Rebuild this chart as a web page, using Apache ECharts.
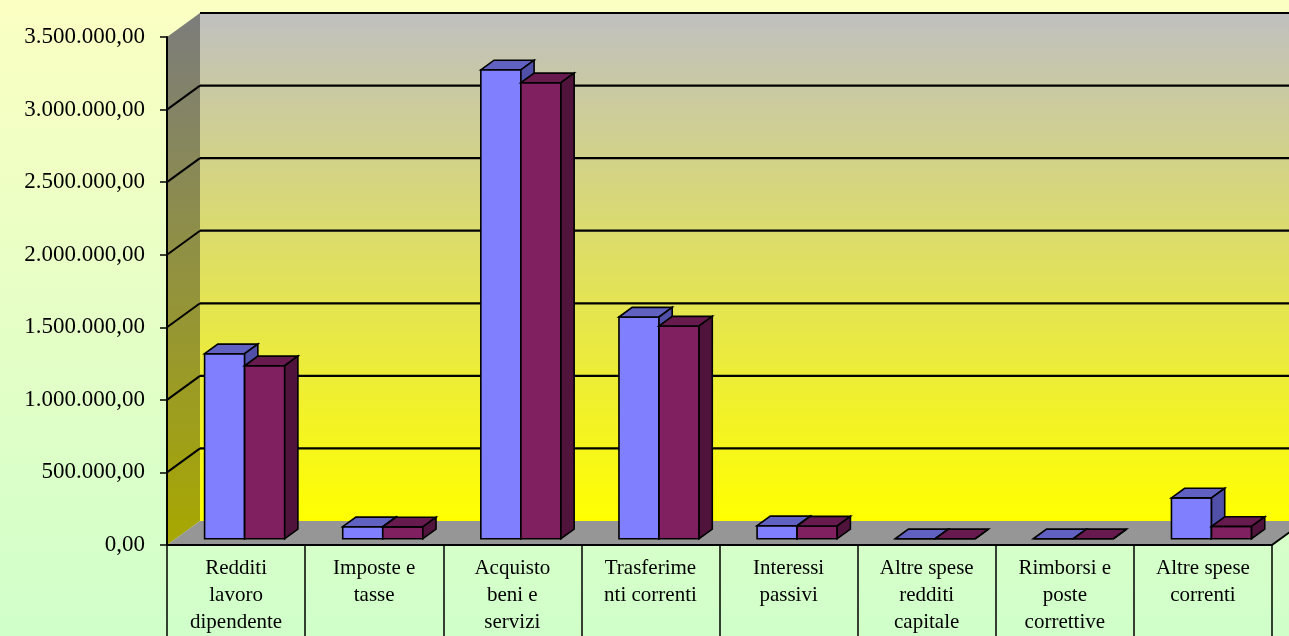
<!DOCTYPE html>
<html>
<head>
<meta charset="utf-8">
<script src="https://cdn.jsdelivr.net/npm/echarts@6/dist/echarts.min.js"></script>
<style>
html, body { margin: 0; padding: 0; }
#e_chart_1 { width: 1289px; height: 636px; }
</style>
</head>
<body>
<div id="e_chart_1"></div>
<script>
var categories = [
    'Redditi\nlavoro\ndipendente',
    'Imposte e\ntasse',
    'Acquisto\nbeni e\nservizi',
    'Trasferime\nnti correnti',
    'Interessi\npassivi',
    'Altre spese\nredditi\ncapitale',
    'Rimborsi e\nposte\ncorrettive',
    'Altre spese\ncorrenti'
];
var serieBlu = [1275000, 83000, 3231000, 1528000, 90000, 0, 0, 282000];
var serieViola = [1192000, 82000, 3142000, 1466000, 88000, 0, 0, 85000];
var yTicks = [0, 500000, 1000000, 1500000, 2000000, 2500000, 3000000, 3500000];

var dom = document.getElementById("e_chart_1");
var myChart = echarts.init(dom);
var option = null;

// 3d look: offset of the back wall and of the bars inside the depth
var DX = 33, DY = -24;
var FRONT = 0.26, DEPTH = 0.4;
var serifFont = "'Times New Roman', 'Liberation Serif', serif";

function itNum(v) {
    var s = Math.round(v).toString();
    s = s.replace(/\B(?=(\d{3})+(?!\d))/g, '.');
    return s + ',00';
}

function renderFrame(params, api) {
    var cs = params.coordSys;
    var left = cs.x, right = cs.x + cs.width;
    var top = cs.y, bottom = cs.y + cs.height;
    var children = [];
    // back wall
    children.push({
        type: 'rect',
        shape: { x: left + DX, y: top + DY, width: cs.width + 40, height: cs.height },
        style: {
            fill: new echarts.graphic.LinearGradient(0, 0, 0, 1, [
                { offset: 0, color: '#c0c0c0' },
                { offset: 1, color: '#ffff00' }
            ])
        }
    });
    // side wall
    children.push({
        type: 'polygon',
        shape: { points: [[left, top], [left + DX, top + DY], [left + DX, bottom + DY], [left, bottom]] },
        style: {
            fill: new echarts.graphic.LinearGradient(0, 0, 0, 1, [
                { offset: 0, color: '#7c7c7c' },
                { offset: 1, color: '#a8a800' }
            ])
        }
    });
    // floor
    children.push({
        type: 'polygon',
        shape: { points: [[left, bottom], [left + DX, bottom + DY], [right + DX, bottom + DY], [right, bottom]] },
        style: { fill: '#969696' }
    });
    children.push({
        type: 'line',
        shape: { x1: right, y1: bottom, x2: right + DX, y2: bottom + DY },
        style: { stroke: '#000', lineWidth: 2 }
    });
    // gridlines
    for (var k = 1; k < yTicks.length; k++) {
        var p = api.coord([0, yTicks[k]]);
        children.push({
            type: 'line',
            shape: { x1: left + DX, y1: p[1] + DY, x2: right + DX + 40, y2: p[1] + DY },
            style: { stroke: '#000', lineWidth: 2.2 }
        });
        if (k < yTicks.length - 1) {
            children.push({
                type: 'line',
                shape: { x1: left, y1: p[1], x2: left + DX, y2: p[1] + DY },
                style: { stroke: '#000', lineWidth: 2 }
            });
        }
    }
    return { type: 'group', children: children };
}

function makeBarRenderer(side, cFront, cTop, cSide) {
    return function (params, api) {
        var i = api.value(0), v = api.value(1);
        var base = api.coord([i, 0]);
        var tip = api.coord([i, v]);
        var band = api.size([1, 0])[0];
        var bw = band * 0.29;
        var fx = FRONT * DX, fy = FRONT * DY;
        var ddx = DEPTH * DX, ddy = DEPTH * DY;
        var x0 = base[0] + fx + (side === 0 ? -bw : 0);
        var x1 = x0 + bw;
        var yt = tip[1] + fy, yb = base[1] + fy;
        var st = { stroke: '#000', lineWidth: 1.6, lineJoin: 'miter' };
        return {
            type: 'group',
            children: [{
                type: 'polygon',
                shape: { points: [[x0, yt], [x1, yt], [x1, yb], [x0, yb]] },
                style: echarts.util.extend({ fill: cFront }, st)
            }, {
                type: 'polygon',
                shape: { points: [[x0, yt], [x0 + ddx, yt + ddy], [x1 + ddx, yt + ddy], [x1, yt]] },
                style: echarts.util.extend({ fill: cTop }, st)
            }, {
                type: 'polygon',
                shape: { points: [[x1, yt], [x1 + ddx, yt + ddy], [x1 + ddx, yb + ddy], [x1, yb]] },
                style: echarts.util.extend({ fill: cSide }, st)
            }]
        };
    };
}

var dataBlu = serieBlu.map(function (v, i) { return [i, v]; });
var dataViola = serieViola.map(function (v, i) { return [i, v]; });

option = {
    backgroundColor: {
        type: 'linear', x: 0, y: 0, x2: 0, y2: 1,
        colorStops: [
            { offset: 0, color: '#fbffc2' },
            { offset: 1, color: '#d0ffca' }
        ]
    },
    animation: false,
    grid: {
        left: 167,
        right: 17,
        top: 37,
        bottom: 91,
        containLabel: false
    },
    xAxis: {
        type: 'category',
        data: categories,
        boundaryGap: true,
        z: 10,
        axisLine: { show: true, lineStyle: { color: '#000', width: 2 } },
        axisTick: { show: true, interval: 0, length: 91, lineStyle: { color: '#000', width: 1.5 } },
        axisLabel: {
            interval: 0,
            margin: 10,
            color: '#000',
            fontFamily: serifFont,
            fontSize: 21,
            lineHeight: 27
        }
    },
    yAxis: {
        type: 'value',
        min: 0,
        max: 3500000,
        interval: 500000,
        z: 10,
        axisLine: { show: true, lineStyle: { color: '#000', width: 2 } },
        axisTick: { show: true, length: 7, lineStyle: { color: '#000', width: 1.5 } },
        splitLine: { show: false },
        axisLabel: {
            margin: 22,
            color: '#000',
            fontFamily: serifFont,
            fontSize: 23,
            formatter: itNum
        }
    },
    series: [{
        type: 'custom',
        name: 'frame',
        z: 1,
        silent: true,
        renderItem: renderFrame,
        data: [[0, 0]]
    }, {
        type: 'custom',
        name: 'Serie 1',
        z: 3,
        renderItem: makeBarRenderer(0, '#8080ff', '#6161c2', '#5050a8'),
        encode: { x: 0, y: 1 },
        data: dataBlu
    }, {
        type: 'custom',
        name: 'Serie 2',
        z: 4,
        renderItem: makeBarRenderer(1, '#802060', '#661a4d', '#50143c'),
        encode: { x: 0, y: 1 },
        data: dataViola
    }]
};

if (option && typeof option === "object") {
    myChart.setOption(option, true);
}
</script>
</body>
</html>
